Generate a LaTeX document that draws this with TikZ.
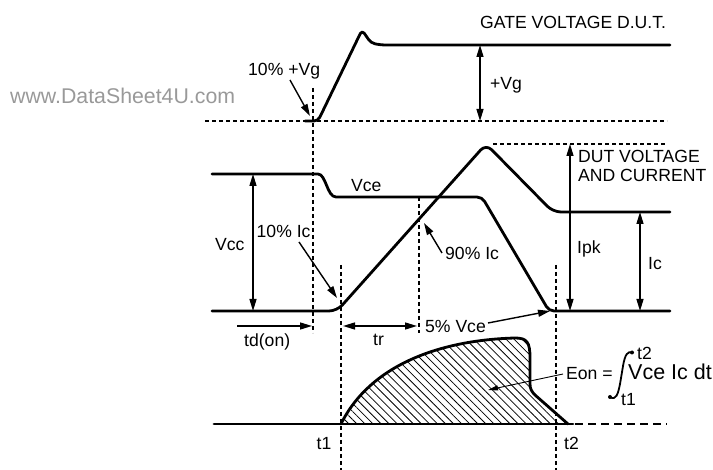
\documentclass[tikz,border=0pt]{standalone}
\usepackage{fontspec}
\setmainfont{Liberation Sans}
\usetikzlibrary{arrows.meta,patterns.meta}
\begin{document}
\begin{tikzpicture}[x=1pt,y=-1pt,
  wave/.style={line width=2.8pt, line join=round, line cap=round},
  guide/.style={line width=1.1pt, dash pattern=on 4pt off 3pt},
  dim/.style={line width=1.4pt, {Triangle[length=12pt,width=7pt]}-{Triangle[length=12pt,width=7pt]}},
  pointer/.style={line width=1.4pt, -{Triangle[length=12pt,width=7pt]}},
  lbl/.style={font=\fontsize{17.6}{19}\selectfont, inner sep=0pt, anchor=base west},
]
\useasboundingbox (0,0) rectangle (713,470);

% watermark
\node[lbl, font=\fontsize{21.3}{22}\selectfont, text=black!40] (wm) at (10,103.5) {www.DataSheet4U.com};

% guide lines
\draw[guide] (205,121) -- (667,121);
\draw[guide] (493,144) -- (667,144);
\draw[guide] (313,88) -- (313,333);
\draw[guide] (341,265) -- (341,470);
\draw[guide] (419,197) -- (419,333);
\draw[guide] (556,265) -- (556,470);

% gate voltage
\draw[wave, rounded corners=4pt] (305,121) -- (318,121) -- (362,30) -- (371,43) -- (381,45) -- (670,45);

% Vce
\draw[wave, rounded corners=5pt] (212,174) -- (313,174) .. controls (326,174) and (327,197) .. (341,197) -- (482,197) -- (549,311) -- (670,311);

% collector current
\draw[wave, rounded corners=8pt] (212,311) -- (337,311) -- (486,144) -- (553,212) -- (670,212);

% energy area
\fill[pattern={Lines[angle=-45,distance=5.7pt,line width=0.8pt]}]
  (341,424) .. controls (370,365) and (440,340) .. (515,338)
  .. controls (527,338) and (530,342) .. (530,358) -- (530,384)
  .. controls (530,389) and (532,392) .. (535,395) -- (568,424) -- cycle;
\draw[wave]
  (341,424) .. controls (370,365) and (440,340) .. (515,338)
  .. controls (527,338) and (530,342) .. (530,358) -- (530,384)
  .. controls (530,389) and (532,392) .. (535,395) -- (568,424);
\draw[wave] (214,424) -- (573,424);
\draw[line width=2.8pt, dash pattern=on 8pt off 5pt] (575,424) -- (667,424);

% labels
\node[lbl] (gate) at (480,29) {GATE VOLTAGE D.U.T.};
\node[lbl] (vgpct) at (248,75.5) {10\% +Vg};
\node[lbl] (vg) at (490,89.5) {+Vg};
\node[lbl] (vce) at (351,191.5) {Vce};
\node[lbl] (vcc) at (215,250.5) {Vcc};
\node[lbl] (ic10) at (256.5,238) {10\% Ic};
\node[lbl] (ic90) at (445,259.5) {90\% Ic};
\node[lbl] (ipk) at (577,254) {Ipk};
\node[lbl] (ic) at (648,270) {Ic};
\node[lbl, align=left] (dut) at (578,181.5) {DUT VOLTAGE\\AND CURRENT};
\node[lbl] (vce5) at (425,333) {5\% Vce};
\node[lbl] (tdon) at (244,346.5) {td(on)};
\node[lbl] (tr) at (373,346) {tr};
\node[lbl] (t1) at (316.5,449.5) {t1};
\node[lbl] (t2) at (564,449.5) {t2};
\node[lbl] (eon) at (566,380) {Eon =};
\node[lbl, font=\fontsize{21.5}{23}\selectfont] (integrand) at (628,380) {Vce Ic dt};
\node[lbl] (ut2) at (637,360) {t2};
\node[lbl] (lt1) at (621,406) {t1};

% integral sign
\draw[line width=1.8pt, line cap=round] (610,397) .. controls (616,401) and (618,394) .. (620,384) -- (623,366) .. controls (625,354) and (628,351) .. (632,352.5);
\fill (610,397) circle (2pt);
\fill (632,352.5) circle (2pt);

% coordinates for arrows
\coordinate (vgA) at (480,45);
\coordinate (vgB) at (480,121);
\coordinate (vccA) at (253,174);
\coordinate (vccB) at (253,311);
\coordinate (ipkA) at (570,144);
\coordinate (ipkB) at (570,311);
\coordinate (icA) at (640,212);
\coordinate (icB) at (640,311);
\coordinate (tdA) at (237,326);
\coordinate (tdB) at (312,326);
\coordinate (trA) at (343,326);
\coordinate (trB) at (417,326);
\coordinate (p10vg) at (310,116);
\coordinate (s10vg) at (290,80);
\coordinate (s10ic) at (299,242);
\coordinate (p10ic) at (337,298);
\coordinate (s90ic) at (442,253);
\coordinate (p90ic) at (424,223);
\coordinate (s5vce) at (488,323);
\coordinate (p5vce) at (550,311);
\coordinate (seon) at (563,374);
\coordinate (peon) at (488,390);

\draw[dim] (vgA) -- (vgB);
\draw[dim] (vccA) -- (vccB);
\draw[dim] (ipkA) -- (ipkB);
\draw[dim] (icA) -- (icB);
\draw[pointer] (tdA) -- (tdB);
\draw[dim] (trA) -- (trB);
\draw[pointer] (s10vg) -- (p10vg);
\draw[pointer] (s10ic) -- (p10ic);
\draw[pointer] (s90ic) -- (p90ic);
\draw[pointer] (s5vce) -- (p5vce);
\draw[line width=0.9pt, -{Triangle[length=10pt,width=5pt]}] (seon) -- (peon);
\end{tikzpicture}
\end{document}
